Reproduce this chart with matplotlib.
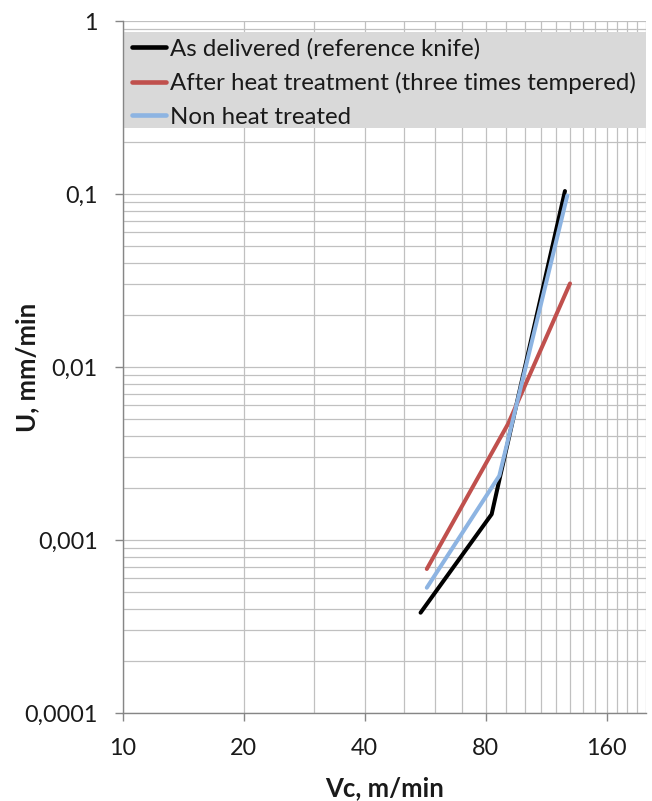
import matplotlib
matplotlib.use("Agg")
import matplotlib.pyplot as plt
from matplotlib.patches import Rectangle
from matplotlib.ticker import FixedLocator, NullFormatter, FixedFormatter

plt.rcParams['font.family'] = ['Lato', 'DejaVu Sans']

# Data
vc_delivered = [55.1, 82.8, 86.8, 126.0]
u_delivered = [3.8e-4, 1.41e-3, 2.3e-3, 0.104]

vc_heat = [57.1, 91.0, 129.7]
u_heat = [6.8e-4, 4.7e-3, 0.0304]

vc_nonheat = [57.1, 86.5, 127.7]
u_nonheat = [5.3e-4, 2.35e-3, 0.098]

labels = ["As delivered (reference knife)",
          "After heat treatment (three times tempered)",
          "Non heat treated"]
colors = ["#000000", "#c0504d", "#8db4e2"]

x_ticks = [10, 20, 40, 80, 160]
x_tick_labels = ["10", "20", "40", "80", "160"]
x_minor = [30, 50, 60, 70, 90, 100, 110, 120, 130, 140, 150, 170, 180, 190, 200]
y_ticks = [1e-4, 1e-3, 1e-2, 1e-1, 1]
y_tick_labels = ["0,0001", "0,001", "0,01", "0,1", "1"]

W, H = 652, 801
fig = plt.figure(figsize=(W / 100, H / 100), dpi=100)
left, right, top, bottom = 122.7, 645.6, 21, 713
pw, ph = right - left, bottom - top
ax = fig.add_axes([left / W, 1 - bottom / H, pw / W, ph / H])

grid_c = "#c0c0c0"
axis_c = "#868686"
text_c = "#1a1a1a"

ax.set_xscale('log', base=2)
ax.set_yscale('log', base=10)
ax.set_xlim(10, 200)
ax.set_ylim(1e-4, 1)

ax.xaxis.set_major_locator(FixedLocator(x_ticks))
ax.xaxis.set_major_formatter(FixedFormatter(x_tick_labels))
ax.xaxis.set_minor_locator(FixedLocator(x_minor))
ax.xaxis.set_minor_formatter(NullFormatter())

ax.yaxis.set_major_locator(FixedLocator(y_ticks))
ax.yaxis.set_major_formatter(FixedFormatter(y_tick_labels))
ymin = []
for d in [1e-4, 1e-3, 1e-2, 1e-1]:
    for m in range(2, 10):
        ymin.append(m * d)
ax.yaxis.set_minor_locator(FixedLocator(ymin))
ax.yaxis.set_minor_formatter(NullFormatter())

ax.grid(True, which='both', color=grid_c, linewidth=0.9)
ax.set_axisbelow(True)

for s in ['top', 'right']:
    ax.spines[s].set_visible(False)
for s in ['left', 'bottom']:
    ax.spines[s].set_color(axis_c)
    ax.spines[s].set_linewidth(1.0)

ax.tick_params(axis='both', which='minor', length=0)
ax.tick_params(axis='y', which='major', direction='out', length=6, width=1.0,
               color=axis_c, labelsize=16.8, pad=12, labelcolor=text_c)
ax.tick_params(axis='x', which='major', direction='out', length=6, width=1.0,
               color=axis_c, labelsize=16.8, pad=12, labelcolor=text_c)

lines = []
for xs, ys, c, lab in [(vc_delivered, u_delivered, colors[0], labels[0]),
                       (vc_heat, u_heat, colors[1], labels[1]),
                       (vc_nonheat, u_nonheat, colors[2], labels[2])]:
    l, = ax.plot(xs, ys, color=c, linewidth=2.9, label=lab,
                 solid_capstyle='round', solid_joinstyle='round')
    lines.append(l)

# legend background box (full plot width)
ax.add_patch(Rectangle((0, (bottom - 128) / ph), 1, (128 - 32) / ph,
                       transform=ax.transAxes, facecolor='#d9d9d9',
                       edgecolor='none', zorder=2.5))

leg = ax.legend(handles=lines, loc='upper left',
                bbox_to_anchor=((132 - left) / pw, (bottom - 38) / ph),
                fontsize=17.3, frameon=False,
                handlelength=1.42, handletextpad=0.17, borderpad=0,
                labelspacing=0.52, borderaxespad=0)
leg.set_zorder(3)
for t in leg.get_texts():
    t.set_color(text_c)
for h in leg.get_lines():
    h.set_linewidth(3.3)

ax.set_xlabel("Vc, m/min", fontsize=18.5, fontweight='bold', color=text_c)
ax.set_ylabel("U, mm/min", fontsize=18.5, fontweight='bold', color=text_c)
ax.xaxis.label.set_va('center')
ax.yaxis.label.set_va('center')
ax.xaxis.set_label_coords(0.5, -(788 - bottom) / ph)
ax.yaxis.set_label_coords(-(left - 27) / pw, 0.5)

fig.savefig("out.png", dpi=100)
